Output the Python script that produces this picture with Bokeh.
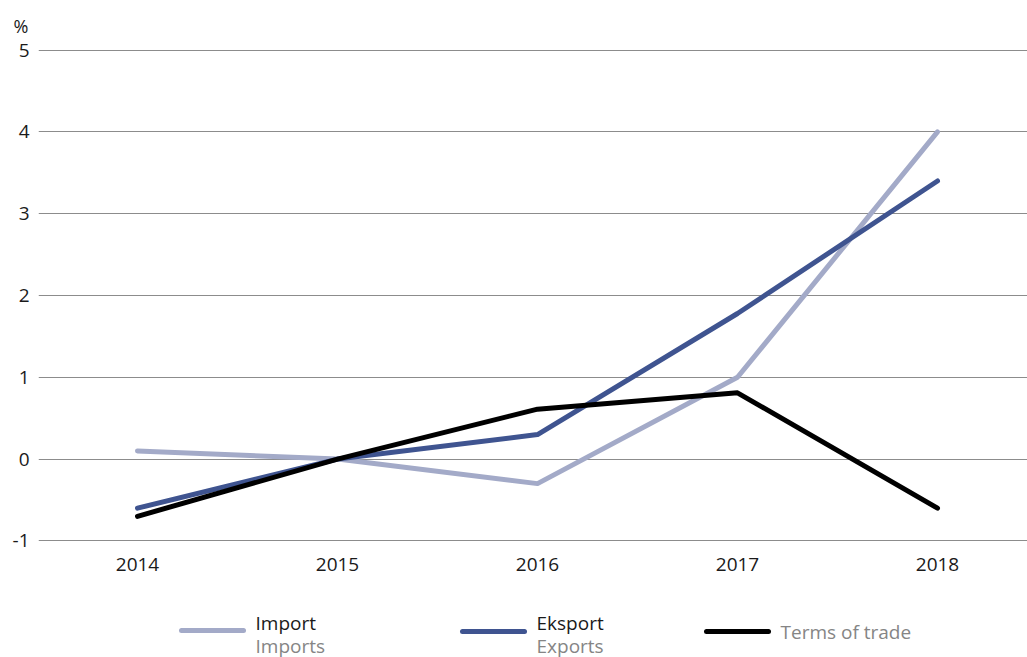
from bokeh.plotting import figure
from bokeh.layouts import column
from bokeh.models import Range1d, FixedTicker, PrintfTickFormatter
from bokeh.embed import file_html
from bokeh.resources import INLINE

years = [2014, 2015, 2016, 2017, 2018]
imports = [0.1, 0.0, -0.3, 1.0, 4.0]
exports = [-0.6, 0.0, 0.3, 1.78, 3.4]
terms_of_trade = [-0.7, 0.0, 0.61, 0.81, -0.6]
y_ticks = [-1, 0, 1, 2, 3, 4, 5]

series_no = ["Import", "Eksport", None]
series_en = ["Imports", "Exports", "Terms of trade"]

C_IMP = "#a3aac8"
C_EXP = "#3f5490"
C_TOT = "#000000"
FONT = "Open Sans"

p = figure(width=1027, height=600, output_backend="svg", toolbar_location=None,
           x_range=Range1d(2013.505, 2018.45), y_range=Range1d(-1.02, 5.02),
           min_border_left=38, min_border_right=0, min_border_top=48, min_border_bottom=58,
           title="%")
p.outline_line_color = None
p.title.text_font = FONT
p.title.text_font_size = "18px"
p.title.text_font_style = "normal"
p.title.text_color = "#1a1a1a"
p.title.offset = -25
p.title.standoff = 18
p.title.vertical_align = "top"

for vals, col in [(imports, C_IMP), (exports, C_EXP), (terms_of_trade, C_TOT)]:
    p.line(years, vals, line_color=col, line_width=5, line_cap="round", line_join="round")

p.xgrid.grid_line_color = None
p.ygrid.ticker = FixedTicker(ticks=y_ticks)
p.ygrid.grid_line_color = "#8c8c8c"
p.ygrid.grid_line_width = 1

p.yaxis.ticker = FixedTicker(ticks=y_ticks)
p.yaxis.formatter = PrintfTickFormatter(format="%d")
p.xaxis.ticker = FixedTicker(ticks=years)
p.xaxis.formatter = PrintfTickFormatter(format="%d")
for ax in (p.xaxis, p.yaxis):
    ax.axis_line_color = None
    ax.major_tick_line_color = None
    ax.minor_tick_line_color = None
    ax.major_label_text_font = FONT
    ax.major_label_text_font_size = "19px"
    ax.major_label_text_color = "#1a1a1a"
p.yaxis.major_label_standoff = 3
p.xaxis.major_label_standoff = 9

# legend strip (page-pixel-like coordinates, y downwards)
lg = figure(width=1027, height=57, output_backend="svg", toolbar_location=None,
            x_range=Range1d(38, 1027), y_range=Range1d(57, 0),
            min_border_left=38, min_border_right=0, min_border_top=0, min_border_bottom=0)
lg.outline_line_color = None
lg.axis.visible = False
lg.grid.visible = False

sample_x0 = [181, 462, 706]
sample_y = [30, 31, 31]
sample_len = 62
colors = [C_IMP, C_EXP, C_TOT]
for i in range(3):
    x0 = sample_x0[i]
    lg.line([x0, x0 + sample_len], [sample_y[i], sample_y[i]], line_color=colors[i],
            line_width=5, line_cap="round")
    tx = x0 + sample_len + 12
    if series_no[i]:
        lg.text([tx], [22], text=[series_no[i]], text_font={"value": FONT}, text_font_size="19px",
                text_color="#1a1a1a", text_baseline="middle")
        lg.text([tx], [45], text=[series_en[i]], text_font={"value": FONT}, text_font_size="19px",
                text_color="#858585", text_baseline="middle")
    else:
        lg.text([tx], [31], text=[series_en[i]], text_font={"value": FONT}, text_font_size="19px",
                text_color="#858585", text_baseline="middle")

layout = column(p, lg, spacing=0)
open("out.html", "w").write(file_html(layout, INLINE))
